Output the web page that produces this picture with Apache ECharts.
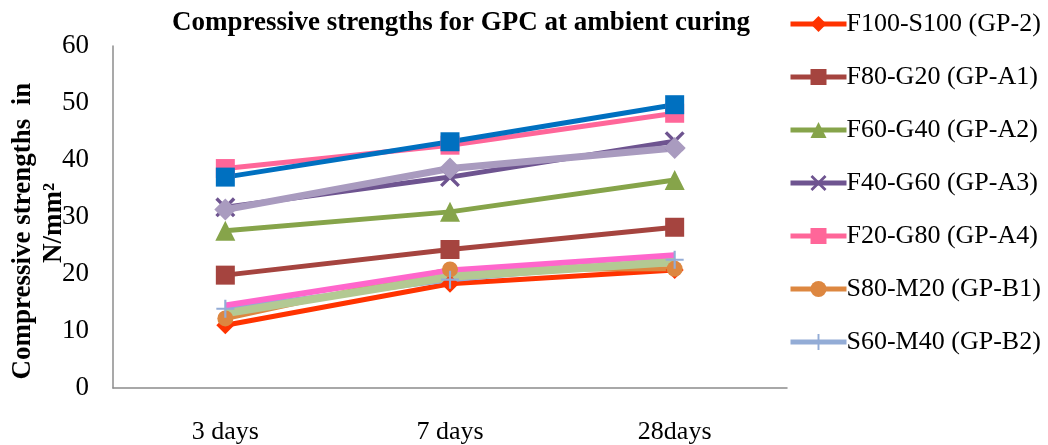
<!DOCTYPE html>
<html>
<head>
<meta charset="utf-8">
<script src="https://cdn.jsdelivr.net/npm/echarts@6/dist/echarts.min.js"></script>
<style>
html,body{margin:0;padding:0;background:#fff;}
#chart{width:1048px;height:445px;}
</style>
</head>
<body>
<div id="chart"></div>
<script>
const categories = ['3 days', '7 days', '28days'];
const yTicks = [0, 10, 20, 30, 40, 50, 60];
const gp2  = [11.0, 18.3, 20.7];   // F100-S100 (GP-2)
const gpA1 = [19.8, 24.3, 28.2];   // F80-G20 (GP-A1)
const gpA2 = [27.6, 30.9, 36.5];   // F60-G40 (GP-A2)
const gpA3 = [31.7, 37.0, 43.3];   // F40-G60 (GP-A3)
const gpA4 = [38.5, 42.6, 48.2];   // F20-G80 (GP-A4)
const gpB1 = [12.2, 20.8, 20.9];   // S80-M20 (GP-B1)
const gpB2 = [13.9, 19.0, 22.5];   // S60-M40 (GP-B2)
const gpX1 = [37.0, 43.2, 49.7];   // unlabelled blue series
const gpX2 = [31.3, 38.5, 42.1];   // unlabelled lavender series
const gpX3 = [14.5, 20.6, 23.3];   // unlabelled magenta series
const gpX4 = [13.1, 19.5, 22.1];   // unlabelled light green series

const legendNames = ['F100-S100 (GP-2)', 'F80-G20 (GP-A1)', 'F60-G40 (GP-A2)', 'F40-G60 (GP-A3)',
  'F20-G80 (GP-A4)', 'S80-M20 (GP-B1)', 'S60-M40 (GP-B2)'];

const X_PATH = 'path://M0,1.2 L1.2,0 L5,3.8 L8.8,0 L10,1.2 L6.2,5 L10,8.8 L8.8,10 L5,6.2 L1.2,10 L0,8.8 L3.8,5 Z';
const PLUS_PATH = 'path://M4.4,0 H5.6 V4.4 H10 V5.6 H5.6 V10 H4.4 V5.6 H0 V4.4 H4.4 Z';

function line(name, data, color, symbol, size, width) {
  return {
    name: name, type: 'line', data: data,
    symbol: symbol, symbolSize: size, showSymbol: true,
    lineStyle: { color: color, width: width },
    itemStyle: { color: color, borderWidth: 0 },
    emphasis: { disabled: true },
    animation: false
  };
}

const chart = echarts.init(document.getElementById('chart'), null, { renderer: 'canvas' });
chart.setOption({
  backgroundColor: '#ffffff',
  animation: false,
  title: {
    text: 'Compressive strengths for GPC at ambient curing',
    left: 167, top: 5,
    textStyle: { fontFamily: 'Liberation Serif', fontWeight: 'bold', fontSize: 27, color: '#000' }
  },
  legend: {
    data: legendNames,
    orient: 'vertical',
    left: 783, top: 6,
    itemWidth: 56, itemHeight: 20, itemGap: 27,
    lineStyle: { width: 5 },
    textStyle: { fontFamily: 'Liberation Serif', fontSize: 26, color: '#000', padding: [0, 0, 0, -5] },
    selectedMode: false
  },
  grid: { left: 113, top: 46, right: 261, bottom: 55, containLabel: false },
  xAxis: {
    type: 'category', data: categories, boundaryGap: true,
    axisLine: { lineStyle: { color: '#8c8c8c', width: 1.5 } },
    axisTick: { show: false },
    axisLabel: { fontFamily: 'Liberation Serif', fontSize: 26, color: '#000', margin: 31 }
  },
  yAxis: {
    type: 'value', min: yTicks[0], max: yTicks[yTicks.length - 1], interval: 10,
    axisLine: { show: true, lineStyle: { color: '#8c8c8c', width: 1.5 } },
    axisTick: { show: false },
    splitLine: { show: false },
    axisLabel: { fontFamily: 'Liberation Serif', fontSize: 27, color: '#000', margin: 24 }
  },
  graphic: [
    { type: 'text', x: 23, y: 231, rotation: Math.PI / 2,
      style: { text: 'Compressive strengths  in', fontFamily: 'Liberation Serif', fontWeight: 'bold',
        fontSize: 27, fill: '#000', textAlign: 'center', textVerticalAlign: 'middle' } },
    { type: 'text', x: 54, y: 223, rotation: Math.PI / 2,
      style: { text: 'N/mm²', fontFamily: 'Liberation Serif', fontWeight: 'bold',
        fontSize: 27, fill: '#000', textAlign: 'center', textVerticalAlign: 'middle' } }
  ],
  series: [
    line('F100-S100 (GP-2)', gp2, '#FF3300', 'diamond', 18, 5),
    line('F80-G20 (GP-A1)', gpA1, '#A5443F', 'rect', 19, 5),
    line('F60-G40 (GP-A2)', gpA2, '#86A44A', 'triangle', 20, 5),
    line('F40-G60 (GP-A3)', gpA3, '#6E5490', X_PATH, 20, 5),
    line('F20-G80 (GP-A4)', gpA4, '#FF6699', 'rect', 19, 5),
    line('S80-M20 (GP-B1)', gpB1, '#DD8740', 'circle', 16, 5),
    line('S60-M40 (GP-B2)', gpB2, '#93ACD6', PLUS_PATH, 18, 5),
    line('G100 (GP-A5)', gpX1, '#0070C0', 'rect', 19, 5),
    line('S40-M60 (GP-B3)', gpX2, '#A99BBF', 'diamond', 22, 7),
    line('S20-M80 (GP-B4)', gpX3, '#FF66CC', 'none', 14, 6),
    line('M100 (GP-B5)', gpX4, '#B3C993', 'none', 14, 8)
  ]
});
</script>
</body>
</html>
